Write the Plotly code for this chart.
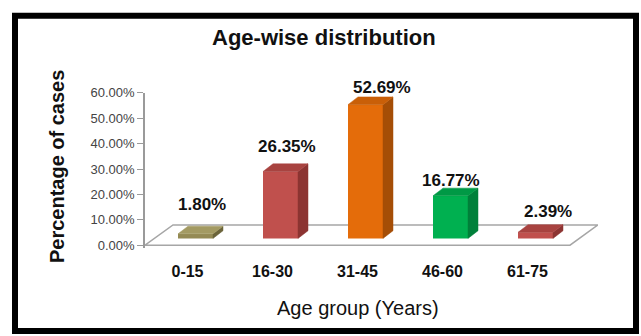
import plotly.graph_objects as go

# ---------------- data ----------------
categories = ["0-15", "16-30", "31-45", "46-60", "61-75"]
values = [1.80, 26.35, 52.69, 16.77, 2.39]
value_labels = ["1.80%", "26.35%", "52.69%", "16.77%", "2.39%"]
y_tick_vals = [0, 10, 20, 30, 40, 50, 60]
y_tick_text = ["0.00%", "10.00%", "20.00%", "30.00%", "40.00%", "50.00%", "60.00%"]

title_text = "Age-wise distribution"
x_title = "Age group (Years)"
y_title = "Percentage of cases"

# ---------------- styles ----------------
front_colors = ["#948A54", "#C0504D", "#E46C0A", "#00B050", "#C0504D"]
side_colors = ["#6B643A", "#8C3432", "#A54E06", "#00803A", "#8C3432"]
top_colors = ["#A39A62", "#A84340", "#C95F08", "#009945", "#A84340"]

FONT = "Liberation Sans, Arial"
W, H = 641, 336
X0_PX, X1_PX = 145, 598          # left axis line, right end of floor
Y0_PX, Y60_PX = 247, 89          # pixel of 0% and 60% on the front plane
PX_CAT = 85.0                    # pixels per category
PX_PCT = (Y0_PX - Y60_PX) / 60.0 # pixels per percent
Y_MIN = -1.0

x_range = [-0.5, -0.5 + (X1_PX - X0_PX) / PX_CAT]
y_range = [Y_MIN, 60]
y_bot_px = Y0_PX + (-Y_MIN) * PX_PCT

xdom = [X0_PX / W, X1_PX / W]
ydom = [1 - y_bot_px / H, 1 - Y60_PX / H]

# 3D geometry in data units
floor_dx, floor_dy = 28 / PX_CAT, 21 / PX_PCT
bar_dx, bar_base = 8 / PX_CAT, 7 / PX_PCT
bar_w = 35 / PX_CAT
depth_dx, depth_dy = 10 / PX_CAT, 8 / PX_PCT

# label offsets (pixels, relative to front-top centre of each bar)
lab_dx_px = [6, 6, 16, 0, 12]
lab_dy_px = [29, 25, 17, 15, 21]

fig = go.Figure()

# front faces
xs = [i + bar_dx for i in range(len(categories))]
fig.add_trace(go.Bar(
    x=xs, y=values, base=[bar_base] * len(values), width=bar_w,
    marker=dict(color=front_colors, line=dict(width=0)),
    showlegend=False, hoverinfo="skip"))

# side and top faces
for i, v in enumerate(values):
    xl = xs[i] - bar_w / 2
    xr = xs[i] + bar_w / 2
    b = bar_base
    t = bar_base + v
    fig.add_trace(go.Scatter(
        x=[xr, xr + depth_dx, xr + depth_dx, xr, xr],
        y=[b, b + depth_dy, t + depth_dy, t, b],
        fill="toself", fillcolor=side_colors[i], mode="lines",
        line=dict(color=side_colors[i], width=0.5),
        showlegend=False, hoverinfo="skip"))
    fig.add_trace(go.Scatter(
        x=[xl, xr, xr + depth_dx, xl + depth_dx, xl],
        y=[t, t, t + depth_dy, t + depth_dy, t],
        fill="toself", fillcolor=top_colors[i], mode="lines",
        line=dict(color=top_colors[i], width=0.5),
        showlegend=False, hoverinfo="skip"))

# floor (frame, below traces)
floor_path = (f"M {x_range[0]} 0 L 4.5 0 L {4.5 + floor_dx} {floor_dy} "
              f"L {x_range[0] + floor_dx} {floor_dy} Z")
shapes = [
    dict(type="path", xref="x", yref="y", path=floor_path, layer="below",
         fillcolor="#FFFFFF", line=dict(color="#A6A6A6", width=1.5)),
    dict(type="rect", xref="paper", yref="paper",
         x0=15 / W, x1=636 / W, y0=0, y1=1 - 9 / H,
         line=dict(color="#000000", width=6), fillcolor="rgba(0,0,0,0)"),
]

annotations = [
    dict(text=f"<b>{title_text}</b>", x=324 / W, y=1 - 32 / H, xref="paper", yref="paper",
         xanchor="center", yanchor="middle", showarrow=False,
         font=dict(family=FONT, size=22, color="#111111")),
    dict(text=f"<b>{y_title}</b>", x=57 / W, y=1 - 166 / H, xref="paper", yref="paper",
         xanchor="center", yanchor="middle", showarrow=False, textangle=-90,
         font=dict(family=FONT, size=20, color="#111111")),
    dict(text=x_title, x=357.5 / W, y=1 - 312 / H, xref="paper", yref="paper",
         xanchor="center", yanchor="middle", showarrow=False,
         font=dict(family=FONT, size=20, color="#111111")),
]

# value labels: anchored at the bar top (always inside the axis range), shifted in pixels
for i, v in enumerate(values):
    annotations.append(dict(
        text=f"<b>{value_labels[i]}</b>",
        x=xs[i], y=bar_base + v, xshift=lab_dx_px[i], yshift=lab_dy_px[i],
        xref="x", yref="y", xanchor="center", yanchor="middle", showarrow=False,
        font=dict(family=FONT, size=17, color="#111111")))

fig.update_layout(
    width=W, height=H,
    margin=dict(l=0, r=0, t=0, b=0),
    paper_bgcolor="#FFFFFF", plot_bgcolor="rgba(0,0,0,0)",
    shapes=shapes, annotations=annotations,
    xaxis=dict(domain=xdom, range=x_range, showgrid=False, zeroline=False,
               showline=False, ticks="", tickvals=list(range(len(categories))),
               ticktext=[f"<b>{c}</b>" for c in categories],
               tickfont=dict(family=FONT, size=16, color="#111111"),
               ticklabelstandoff=12, fixedrange=True),
    yaxis=dict(domain=ydom, range=y_range, showgrid=False, zeroline=False,
               showline=True, linecolor="#9A9A9A", linewidth=1.5,
               ticks="outside", ticklen=6, tickcolor="#9A9A9A",
               tickvals=y_tick_vals, ticktext=y_tick_text,
               tickfont=dict(family=FONT, size=13, color="#444444"),
               fixedrange=True),
)

fig.write_html("out.html")
